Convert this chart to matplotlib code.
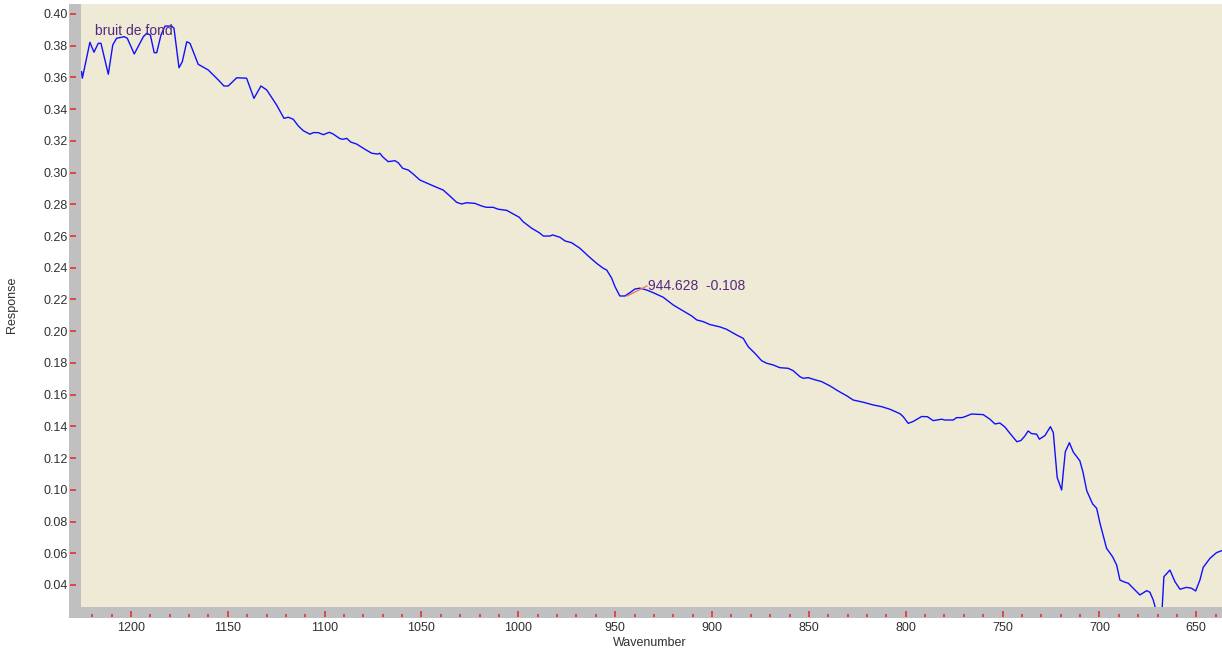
import matplotlib
matplotlib.use('Agg')
import matplotlib.pyplot as plt
from matplotlib.patches import Rectangle
from matplotlib.ticker import MultipleLocator, FormatStrFormatter

plt.rcParams['font.family'] = ['Liberation Sans', 'DejaVu Sans']

# spectrum (wavenumber, response)
wavenumber = [
    1225.5, 1225.1, 1221.2, 1219.1, 1216.9, 1215.5, 1211.7, 1209.4, 1207.4, 1203.5,
    1201.9, 1198.3, 1193.6, 1191.9, 1190.0, 1188.0, 1186.7, 1184.5, 1182.4, 1179.0,
    1177.8, 1175.2, 1173.5, 1171.2, 1169.5, 1165.3, 1160.1, 1154.9, 1152.0, 1149.8,
    1145.4, 1140.3, 1136.5, 1132.9, 1129.9, 1124.8, 1121.0, 1118.8, 1116.2, 1113.6,
    1111.0, 1107.6, 1105.9, 1103.3, 1100.7, 1097.6, 1095.6, 1092.1, 1090.4, 1088.6,
    1086.6, 1083.5, 1079.2, 1075.7, 1072.6, 1071.5, 1070.1, 1067.2, 1063.7, 1062.0,
    1059.7, 1056.8, 1054.3, 1050.8, 1043.9, 1038.8, 1035.3, 1031.9, 1029.3, 1026.7,
    1022.4, 1018.9, 1016.4, 1013.0, 1010.4, 1006.0, 1002.6, 999.5, 997.5, 993.1,
    989.2, 987.1, 983.7, 982.3, 978.5, 975.9, 972.5, 968.2, 963.9, 959.6,
    956.2, 954.4, 951.8, 950.1, 947.6, 945.0, 942.4, 939.8, 937.2, 933.8,
    930.4, 925.2, 920.0, 915.7, 910.5, 907.9, 904.5, 901.1, 895.9, 892.5,
    887.3, 883.9, 881.3, 877.9, 874.4, 871.8, 868.4, 865.0, 860.7, 858.1,
    854.6, 852.9, 850.3, 847.8, 843.4, 839.1, 834.9, 830.5, 827.1, 821.9,
    816.8, 812.4, 808.2, 803.0, 801.3, 798.7, 796.1, 791.8, 788.8, 785.8,
    781.5, 779.8, 775.5, 773.7, 771.1, 769.4, 766.0, 760.0, 756.5, 753.9,
    751.4, 748.8, 746.2, 742.6, 740.5, 738.5, 736.8, 735.0, 732.4, 731.0,
    728.1, 725.3, 723.8, 723.0, 721.8, 719.5, 718.7, 717.6, 715.5, 713.5,
    710.1, 708.5, 706.5, 703.5, 701.4, 699.7, 696.3, 693.2, 691.1, 689.4,
    686.8, 685.1, 680.8, 679.1, 675.6, 673.9, 672.2, 670.5, 669.3, 667.7,
    666.7, 663.6, 661.0, 658.4, 655.0, 652.4, 650.3, 648.1, 646.4, 642.9,
    639.5, 636.7, 636.0,
]
response = [
    0.3636, 0.3595, 0.3822, 0.3759, 0.3815, 0.3815, 0.3620, 0.3805, 0.3847, 0.3857,
    0.3847, 0.3748, 0.3857, 0.3878, 0.3868, 0.3756, 0.3756, 0.3868, 0.3924, 0.3924,
    0.3910, 0.3661, 0.3699, 0.3825, 0.3815, 0.3683, 0.3647, 0.3584, 0.3546, 0.3546,
    0.3598, 0.3595, 0.3468, 0.3546, 0.3521, 0.3426, 0.3342, 0.3349, 0.3336, 0.3294,
    0.3264, 0.3242, 0.3252, 0.3252, 0.3239, 0.3254, 0.3243, 0.3214, 0.3210, 0.3216,
    0.3193, 0.3180, 0.3147, 0.3122, 0.3117, 0.3122, 0.3100, 0.3069, 0.3075, 0.3062,
    0.3027, 0.3016, 0.2991, 0.2953, 0.2916, 0.2890, 0.2852, 0.2813, 0.2802, 0.2810,
    0.2806, 0.2789, 0.2781, 0.2781, 0.2769, 0.2762, 0.2739, 0.2718, 0.2690, 0.2649,
    0.2621, 0.2600, 0.2600, 0.2607, 0.2592, 0.2569, 0.2558, 0.2523, 0.2474, 0.2428,
    0.2397, 0.2386, 0.2334, 0.2281, 0.2222, 0.2222, 0.2243, 0.2266, 0.2271, 0.2260,
    0.2243, 0.2214, 0.2165, 0.2134, 0.2096, 0.2071, 0.2060, 0.2042, 0.2027, 0.2012,
    0.1976, 0.1955, 0.1902, 0.1861, 0.1814, 0.1798, 0.1787, 0.1770, 0.1766, 0.1751,
    0.1713, 0.1703, 0.1707, 0.1697, 0.1682, 0.1655, 0.1623, 0.1593, 0.1566, 0.1552,
    0.1535, 0.1524, 0.1508, 0.1480, 0.1461, 0.1419, 0.1431, 0.1462, 0.1461, 0.1436,
    0.1445, 0.1440, 0.1440, 0.1455, 0.1455, 0.1461, 0.1478, 0.1474, 0.1445, 0.1415,
    0.1421, 0.1396, 0.1356, 0.1303, 0.1311, 0.1339, 0.1371, 0.1354, 0.1351, 0.1319,
    0.1342, 0.1398, 0.1361, 0.1245, 0.1078, 0.0999, 0.1104, 0.1240, 0.1297, 0.1238,
    0.1183, 0.1112, 0.0993, 0.0911, 0.0883, 0.0789, 0.0631, 0.0578, 0.0526, 0.0431,
    0.0417, 0.0411, 0.0358, 0.0337, 0.0364, 0.0354, 0.0305, 0.0230, 0.0180, 0.0230,
    0.0452, 0.0494, 0.0421, 0.0373, 0.0385, 0.0379, 0.0362, 0.0431, 0.0511, 0.0568,
    0.0604, 0.0616, 0.0620,
]

# little red cursor segment near the 950 dip
cursor_x = [943.9, 933.6]
cursor_y = [0.2222, 0.2285]

note_text = 'bruit de fond'
note_pos = (1218.6, 0.3893)
cursor_text = '944.628  -0.108'
cursor_pos = (933.1, 0.2285)

W, H = 1222, 653
fig = plt.figure(figsize=(W / 100, H / 100), dpi=100)
fig.patch.set_facecolor('white')

# plot area in pixels: x 81..1222, y 4..607
ax = fig.add_axes([81 / W, 1 - 607 / H, (W - 81) / W, (607 - 4) / H])
ax.set_facecolor('#EFEAD6')

# grey frame strips (left and bottom)
fig.patches.append(Rectangle((69 / W, 1 - 618 / H), 12 / W, (618 - 4) / H,
                             transform=fig.transFigure, facecolor='#C0C0C0',
                             edgecolor='none', zorder=-1))
fig.patches.append(Rectangle((69 / W, 1 - 618 / H), (W - 69) / W, 11 / H,
                             transform=fig.transFigure, facecolor='#C0C0C0',
                             edgecolor='none', zorder=-1))

ax.plot(wavenumber, response, color='#1010FF', lw=1.0)
ax.plot(cursor_x, cursor_y, color='#F07860', lw=1.0)

ax.text(note_pos[0], note_pos[1], note_text, color='#55287F', fontsize=10,
        va='center', ha='left')
ax.text(cursor_pos[0], cursor_pos[1], cursor_text, color='#55287F', fontsize=10,
        va='center', ha='left')

ax.set_xlim(1225.8, 636.7)
ax.set_ylim(0.0261, 0.4063)

for s in ax.spines.values():
    s.set_visible(False)
px = 72 / 100  # points per pixel
ax.spines['left'].set_position(('outward', 5 * px))
ax.spines['bottom'].set_position(('outward', 10 * px))

ax.yaxis.set_major_locator(MultipleLocator(0.02))
ax.yaxis.set_major_formatter(FormatStrFormatter('%.2f'))
ax.xaxis.set_major_locator(MultipleLocator(50))
ax.xaxis.set_minor_locator(MultipleLocator(10))
ax.xaxis.set_major_formatter(FormatStrFormatter('%d'))

ax.tick_params(axis='y', direction='out', length=6 * px, width=1.2,
               color='#E83030', pad=2 * px, labelsize=9, labelcolor='#303030')
ax.tick_params(axis='x', which='major', direction='in', length=6 * px, width=1.2,
               color='#E83030', pad=5 * px, labelsize=9, labelcolor='#303030')
ax.tick_params(axis='x', which='minor', direction='in', length=3 * px, width=1.2,
               color='#E83030')

fig.text(650 / W, 1 - 643 / H, 'Wavenumber', fontsize=9, color='#303030',
         ha='center', va='center')
fig.text(12 / W, 1 - 305 / H, 'Response', fontsize=9, color='#303030',
         ha='center', va='center', rotation=90)

fig.savefig('out.png', dpi=100, facecolor='white')
